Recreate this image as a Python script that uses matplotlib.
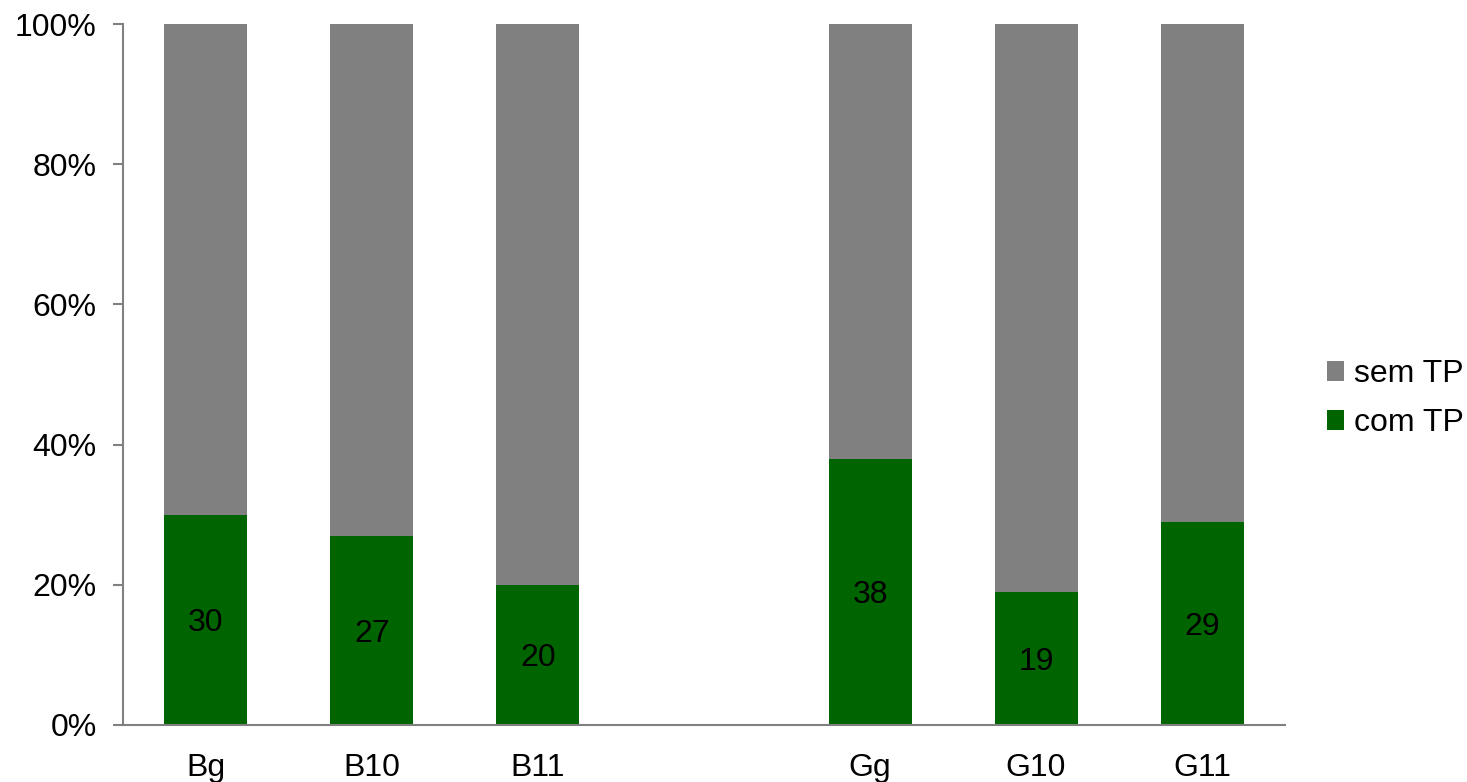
import numpy as np
import matplotlib
matplotlib.use("Agg")
import matplotlib.pyplot as plt

font = {"family": "Liberation Sans",
        "size": 23}
matplotlib.rc("font", **font)

categories = ["Bg", "B10", "B11", "", "Gg", "G10", "G11"]
com_tp = [30, 27, 20, 0, 38, 19, 29]
sem_tp = [70, 73, 80, 0, 62, 81, 71]

com = np.array(com_tp, dtype=float)
sem = np.array(sem_tp, dtype=float)
total = com + sem
total[total == 0] = 1
com_pct = com / total * 100
sem_pct = sem / total * 100

fig = plt.figure(figsize=(14.67, 7.82), dpi=100)
ax = fig.add_axes([0.0838, 0.0729, 0.7922, 0.8964])

index = np.arange(len(categories))
bar_width = 0.5

b_com = ax.bar(index, com_pct, bar_width, color="#006400", label="com TP")
b_sem = ax.bar(index, sem_pct, bar_width, bottom=com_pct, color="#808080", label="sem TP")

for i, v in enumerate(com_tp):
    if v > 0:
        ax.text(index[i], com_pct[i] / 2 - 0.5, str(v), ha="center", va="center",
                fontsize=23, color="black")

ax.set_xlim(-0.5, len(categories) - 0.5)
ax.set_ylim(0, 100)
ax.set_yticks(np.arange(0, 101, 20))
ax.set_yticklabels([f"{t}%" for t in range(0, 101, 20)])
ax.set_xticks(index)
ax.set_xticklabels(categories)

for side in ["top", "right"]:
    ax.spines[side].set_visible(False)
for side in ["left", "bottom"]:
    ax.spines[side].set_color("#808080")
    ax.spines[side].set_linewidth(1.5)
ax.tick_params(axis="y", direction="out", length=7, width=1.5, color="#808080", pad=12)
ax.tick_params(axis="x", length=0, pad=20)

fig.legend([b_sem, b_com], ["sem TP", "com TP"], loc="center left",
           bbox_to_anchor=(0.9045, 0.49), frameon=False, borderaxespad=0,
           borderpad=0, handlelength=0.55, handleheight=0.55, handletextpad=0.3,
           labelspacing=0.6, fontsize=23)

plt.savefig("out.png", dpi=100)
